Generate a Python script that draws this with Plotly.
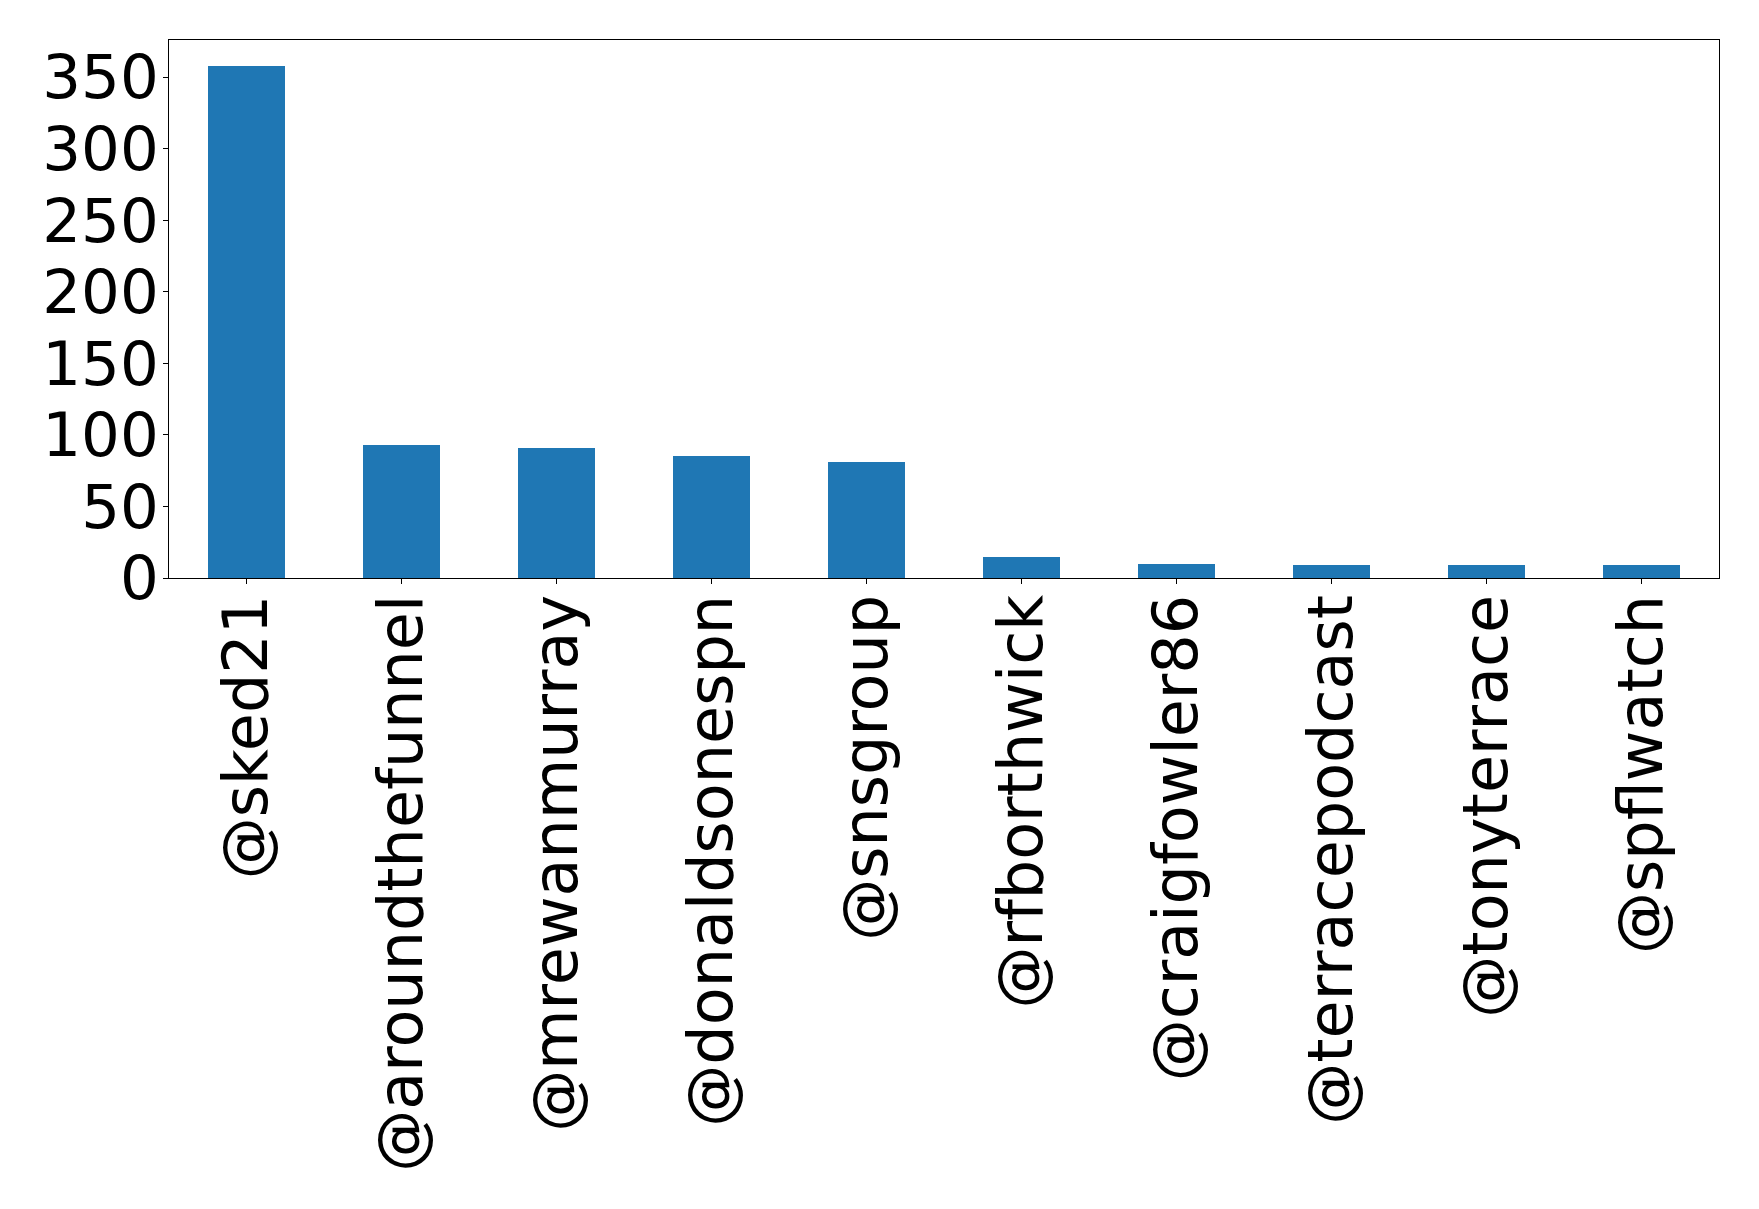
import plotly.graph_objects as go

accounts = ["@sked21", "@aroundthefunnel", "@mrewanmurray", "@donaldsonespn", "@snsgroup",
            "@rfborthwick", "@craigfowler86", "@terracepodcast", "@tonyterrace", "@spflwatch"]
counts = [358, 93, 91, 85, 81, 15, 10, 9, 9, 9]
y_ticks = [0, 50, 100, 150, 200, 250, 300, 350]

fig = go.Figure(go.Bar(
    x=list(range(len(accounts))), y=counts, width=0.5,
    marker=dict(color="#1f77b4", line=dict(width=0)),
))

fig.update_layout(
    width=1759, height=1209,
    margin=dict(l=161, r=48, t=32, b=639),
    plot_bgcolor="white", paper_bgcolor="white",
    font=dict(family="DejaVu Sans", size=61, color="black"),
    showlegend=False,
    bargap=0,
)
fig.update_xaxes(
    range=[-0.5, len(accounts) - 0.5],
    tickmode="array", tickvals=list(range(len(accounts))), ticktext=accounts,
    tickangle=-90, ticks="outside", ticklen=5, tickwidth=1.1, tickcolor="black",
    showline=True, linecolor="black", linewidth=1.1, mirror=True,
    showgrid=False, zeroline=False, tickfont=dict(size=62),
    ticklabelstandoff=-14,
)
fig.update_yaxes(
    range=[0, max(counts) * 1.05],
    tickmode="array", tickvals=y_ticks,
    ticks="outside", ticklen=5, tickwidth=1.1, tickcolor="black",
    showline=True, linecolor="black", linewidth=1.1, mirror=True,
    showgrid=False, zeroline=False, tickfont=dict(size=61),
    ticklabelstandoff=-8,
)

fig.write_html("out.html")
